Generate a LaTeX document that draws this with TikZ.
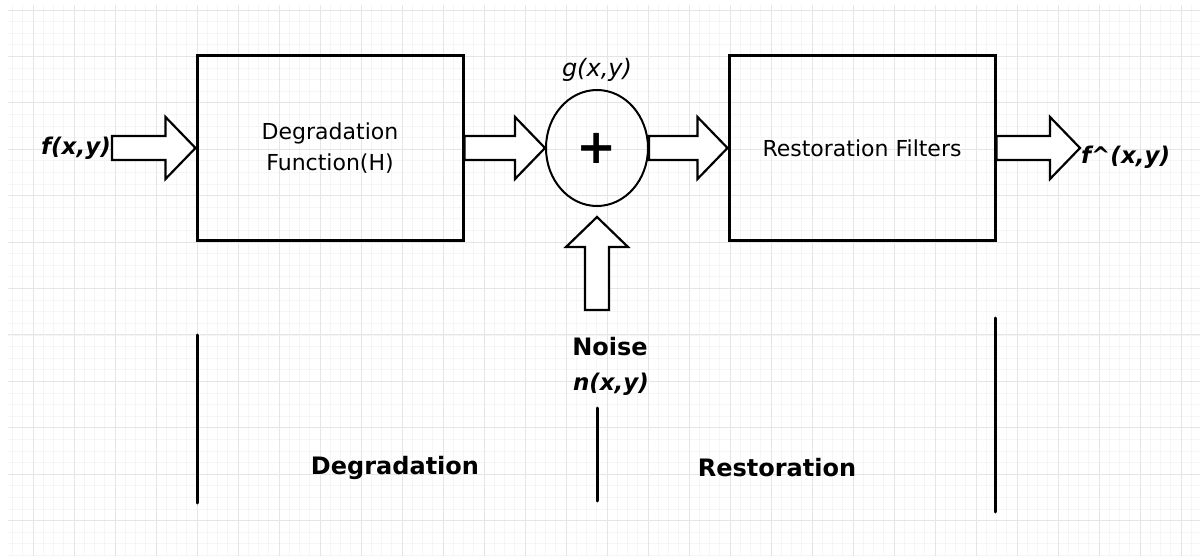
\documentclass[tikz,border=0pt]{standalone}
\usepackage{fontspec}
\setmainfont{DejaVu Sans}
\usetikzlibrary{positioning, calc, shapes.geometric}

\tikzset{
  block/.style={draw, line width=3pt, minimum width=266pt, minimum height=185pt,
    align=center, font=\fontsize{22}{31}\selectfont},
  summer/.style={draw, ellipse, line width=2pt, minimum width=102pt,
    minimum height=116pt, inner sep=0pt, font=\fontsize{48}{48}\selectfont\bfseries},
  fatline/.style={draw, line width=2.2pt, fill=white, line join=miter},
  divider/.style={line width=3pt, line cap=round},
  sig/.style={font=\fontsize{23}{28}\selectfont\bfseries\itshape, inner sep=1pt},
  part/.style={font=\fontsize{24}{28}\selectfont\bfseries},
  minorgrid/.style={gray!8, line width=0.6pt},
  majorgrid/.style={gray!20, line width=0.8pt},
}

\newcommand{\fatarrow}[2]{%
  \draw[fatline] let \p1=($(#2)!30pt!(#1)$) in
    ($(#1)!12pt!90:(\p1)$) -- ($(\p1)!12pt!-90:(#1)$) -- ($(\p1)!31pt!-90:(#1)$)
    -- (#2) -- ($(\p1)!31pt!90:(#1)$) -- ($(\p1)!12pt!90:(#1)$)
    -- ($(#1)!12pt!-90:(\p1)$) -- cycle;}

\begin{document}
\begin{tikzpicture}[x=1pt, y=-1pt]

    \fill[white] (0,0) rectangle (1200,556);
    \useasboundingbox (0,0) rectangle (1200,556);

    \foreach \i in {-2,...,113}
        \draw[minorgrid] ({33+10.25*\i},5) -- ({33+10.25*\i},556);
    \foreach \j in {0,...,47}
        \draw[minorgrid] (8,{10+11.6*\j}) -- (1200,{10+11.6*\j});
    \foreach \i in {0,...,28}
        \draw[majorgrid] ({33+41*\i},5) -- ({33+41*\i},556);
    \foreach \j in {0,...,11}
        \draw[majorgrid] (8,{10+46.4*\j}) -- (1200,{10+46.4*\j});

    \node[block] (deg) at (330,148) {Degradation\\Function(H)};

    \node[summer] (sum) at (597,148) {+};

    \node[block] (rest) at (862,148) {Restoration Filters};

    \node[sig, anchor=east] (fin) at (112,148) {f(x,y)};

    \node[sig, anchor=west] (fout) at (1080,157) {f\textasciicircum(x,y)};

    \node[above=6pt of sum, inner sep=1pt, font=\fontsize{24}{28}\selectfont\itshape] (gout) {g(x,y)};

    \node[part] (noise) at (610,347) {Noise};

    \node[sig] (nxy) at (611,384) {n(x,y)};

    \coordinate (nzin) at (597,310);
    \coordinate[below=10pt of sum.south] (sumin);
    \coordinate (ftip) at (rest.east -| fout.west);

    \fatarrow{fin.east}{deg.west}
    \fatarrow{deg.east}{sum.west}
    \fatarrow{sum.east}{rest.west}
    \fatarrow{rest.east}{ftip}
    \fatarrow{nzin}{sumin}

    \draw[divider] (197,335) -- (197,503);
    \draw[divider] (597,408) -- (597,501);
    \draw[divider] (995,318) -- (995,512);

    \node[part] (deglabel) at (395,468) {Degradation};

    \node[part] (restlabel) at (777,468) {Restoration};

\end{tikzpicture}
\end{document}
